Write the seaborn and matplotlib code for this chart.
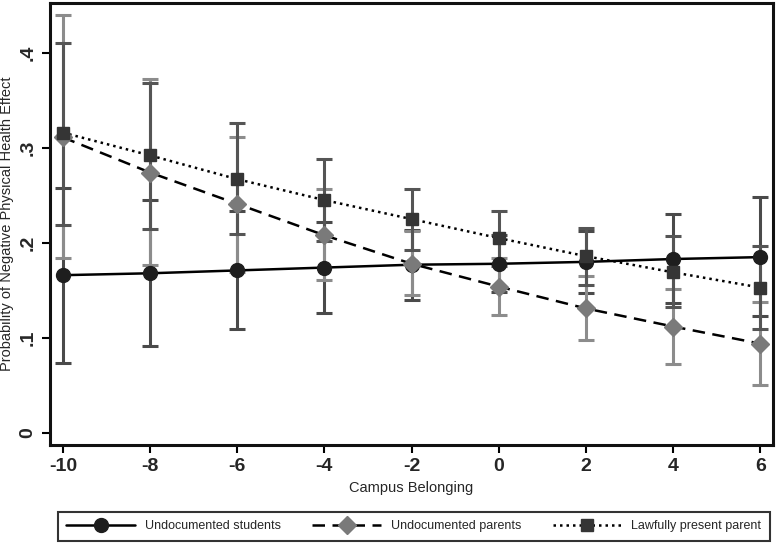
import numpy as np
import pandas as pd
import matplotlib
matplotlib.use("Agg")
import matplotlib.pyplot as plt
import seaborn as sns

# campus belonging values on the x axis
belonging = [-10, -8, -6, -4, -2, 0, 2, 4, 6]

# predicted probabilities and 95% CI bounds
students = [0.166, 0.168, 0.171, 0.174, 0.177, 0.178, 0.180, 0.183, 0.185]
students_lo = [0.074, 0.092, 0.109, 0.126, 0.140, 0.148, 0.147, 0.137, 0.123]
students_hi = [0.258, 0.245, 0.233, 0.222, 0.214, 0.208, 0.213, 0.230, 0.248]

parents = [0.311, 0.274, 0.241, 0.208, 0.178, 0.154, 0.131, 0.112, 0.094]
parents_lo = [0.184, 0.177, 0.169, 0.161, 0.145, 0.124, 0.098, 0.073, 0.050]
parents_hi = [0.440, 0.372, 0.311, 0.257, 0.213, 0.184, 0.165, 0.151, 0.138]

lawful = [0.316, 0.292, 0.267, 0.245, 0.225, 0.205, 0.186, 0.169, 0.153]
lawful_lo = [0.219, 0.215, 0.209, 0.202, 0.193, 0.176, 0.156, 0.133, 0.109]
lawful_hi = [0.410, 0.368, 0.326, 0.288, 0.257, 0.234, 0.216, 0.207, 0.197]

groups = ["Undocumented students", "Undocumented parents", "Lawfully present parent"]

df = pd.DataFrame({
    "x": belonging * 3,
    "y": students + parents + lawful,
    "lo": students_lo + parents_lo + lawful_lo,
    "hi": students_hi + parents_hi + lawful_hi,
    "group": np.repeat(groups, len(belonging)),
})

sns.set_style("ticks")
plt.rcParams["font.family"] = ["Liberation Sans", "DejaVu Sans"]

mark_col = {groups[0]: "#1e1e1e", groups[1]: "#7a7a7a", groups[2]: "#353535"}
bar_col = {groups[0]: "#4a4a4a", groups[1]: "#8c8c8c", groups[2]: "#555555"}
markers = {groups[0]: "o", groups[1]: "D", groups[2]: "s"}
msize = {groups[0]: 10, groups[1]: 9, groups[2]: 8.5}
dashes = {groups[0]: "", groups[1]: (5, 3), groups[2]: (1, 1.6)}

fig = plt.figure(figsize=(7.78, 5.5), dpi=100)
ax = fig.add_axes([0.064, 0.191, 0.93, 0.804])

# intervalos primero, las lineas encima
for g in groups:
    d = df[df["group"] == g]
    ax.errorbar(d["x"], d["y"], yerr=[d["y"] - d["lo"], d["hi"] - d["y"]],
                fmt="none", ecolor=bar_col[g], elinewidth=2.2, capsize=6,
                capthick=2.2, zorder=2)

sns.lineplot(data=df, x="x", y="y", hue="group", style="group",
             palette={g: "black" for g in groups}, markers=False,
             dashes=dashes, linewidth=1.8, legend=False, ax=ax, zorder=3)

for g in groups:
    d = df[df["group"] == g]
    ax.plot(d["x"], d["y"], linestyle="none", marker=markers[g],
            markersize=msize[g], color=mark_col[g], zorder=4)

ax.set_xlim(-10.3, 6.3)
ax.set_ylim(-0.0126, 0.4526)
ax.set_xticks(belonging)
ax.set_xticklabels([str(v) for v in belonging], fontsize=14, fontweight="bold")
ax.set_yticks([0, 0.1, 0.2, 0.3, 0.4])
ax.set_yticklabels(["0", ".1", ".2", ".3", ".4"], fontsize=14, rotation=90,
                   va="center", fontweight="bold")
ax.tick_params(direction="out", length=6, width=1.5, color="black")
for s in ax.spines.values():
    s.set_linewidth(2.2)
    s.set_color("#111111")
ax.set_xlabel("Campus Belonging", fontsize=10.5, labelpad=4)
ax.set_ylabel("Probability of Negative Physical Health Effect", fontsize=10.5,
              labelpad=4)

handles = []
for g in groups:
    h, = ax.plot([], [], color="black", linewidth=1.8,
                 linestyle=(0, dashes[g]) if dashes[g] else "-",
                 marker=markers[g], markersize=msize[g],
                 markerfacecolor=mark_col[g], markeredgecolor=mark_col[g])
    handles.append(h)
leg = fig.legend(handles, groups, loc="lower center", ncol=3,
                 bbox_to_anchor=(0.532, 0.005), fontsize=9, frameon=True,
                 fancybox=False, edgecolor="black", handlelength=5.5,
                 columnspacing=2.5, borderpad=0.7, numpoints=1)
leg.get_frame().set_linewidth(1.5)

plt.savefig("out.png", dpi=100)
